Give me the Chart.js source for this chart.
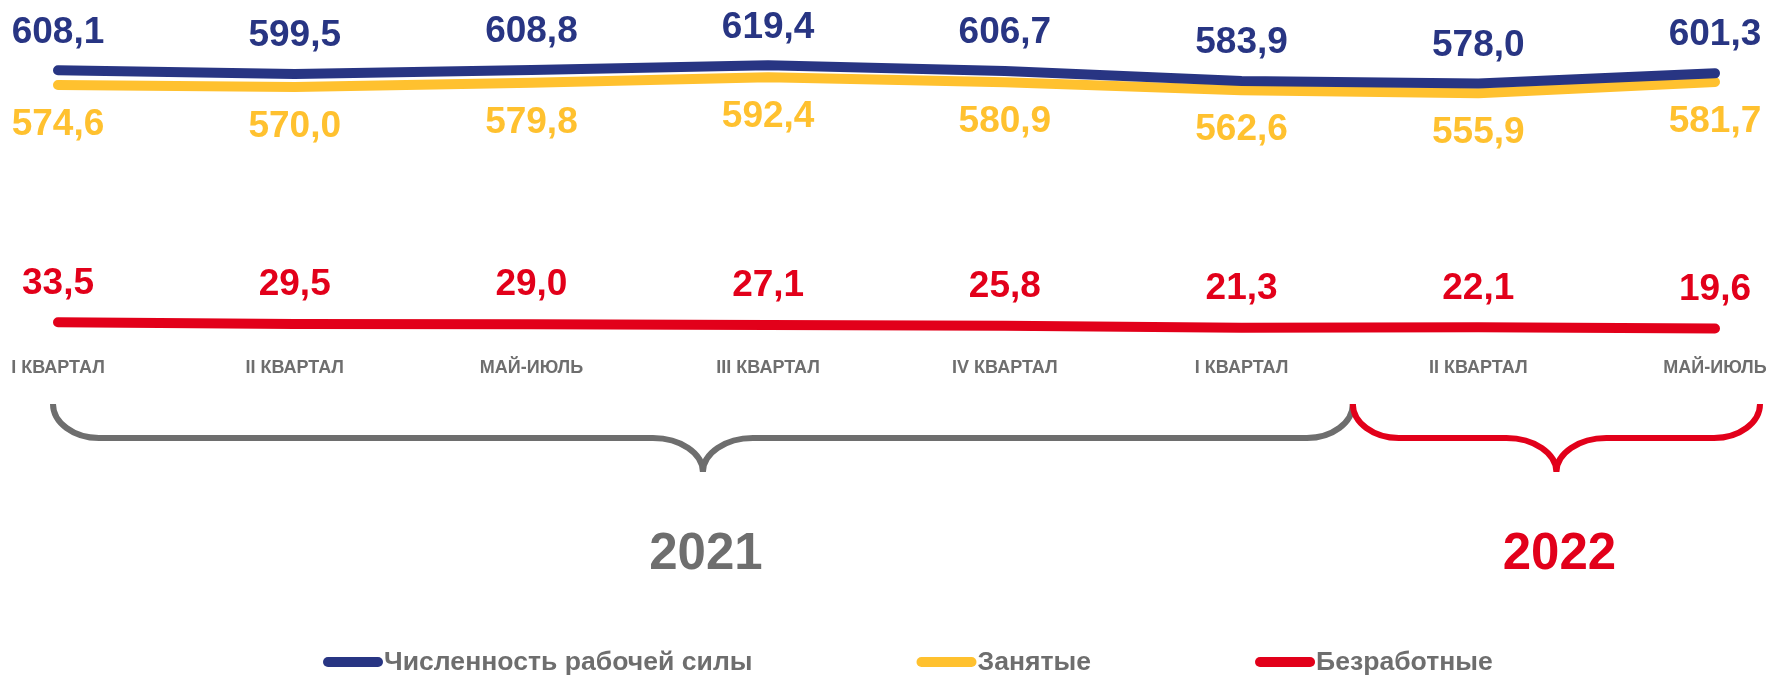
<!DOCTYPE html>
<html lang="ru">
<head>
<meta charset="utf-8">
<title>Рабочая сила</title>
<script src="https://cdn.jsdelivr.net/npm/chart.js@4.4.1/dist/chart.umd.min.js"></script>
<style>
    html, body { margin: 0; padding: 0; background: #fff; }
    #wrap { width: 1766px; height: 676px; }
</style>
</head>
<body>
<div id="wrap"><canvas id="laborChart" width="1766" height="676"></canvas></div>
<script>
const periods = ["I КВАРТАЛ", "II КВАРТАЛ", "МАЙ-ИЮЛЬ", "III КВАРТАЛ", "IV КВАРТАЛ", "I КВАРТАЛ", "II КВАРТАЛ", "МАЙ-ИЮЛЬ"];
const laborForce = [608.1, 599.5, 608.8, 619.4, 606.7, 583.9, 578.0, 601.3];
const employed = [574.6, 570.0, 579.8, 592.4, 580.9, 562.6, 555.9, 581.7];
const unemployed = [33.5, 29.5, 29.0, 27.1, 25.8, 21.3, 22.1, 19.6];
const seriesNames = ["Численность рабочей силы", "Занятые", "Безработные"];
const years = ["2021", "2022"];
const yearRanges = [[0, 5], [6, 7]];

const BLUE = "#283583";
const YELLOW = "#FFC12F";
const RED = "#E2001A";
const GRAY = "#6E6E6E";
const FONT = "'Liberation Sans', Arial, sans-serif";

// vertical shift of each series' value labels from its points
const labelShift = [-38, 40, -39];

const valueLabels = {
    id: "valueLabels",
    afterDatasetsDraw(chart) {
        const ctx = chart.ctx;
        ctx.save();
        ctx.font = "bold 37px " + FONT;
        ctx.textAlign = "center";
        ctx.textBaseline = "middle";
        chart.data.datasets.forEach((ds, i) => {
            ctx.fillStyle = ds.borderColor;
            chart.getDatasetMeta(i).data.forEach((pt, j) => {
                ctx.fillText(ds.data[j].toFixed(1).replace(".", ","), pt.x, pt.y + labelShift[i]);
            });
        });
        ctx.restore();
    }
};

function drawBrace(ctx, x1, x2, top, mid, tip) {
    const k = 0.55;
    const we = 46, wm = 50;
    const xm = (x1 + x2) / 2;
    ctx.beginPath();
    ctx.moveTo(x1, top);
    ctx.bezierCurveTo(x1, top + k * (mid - top), x1 + we * (1 - k), mid, x1 + we, mid);
    ctx.lineTo(xm - wm, mid);
    ctx.bezierCurveTo(xm - wm * (1 - k), mid, xm, tip - k * (tip - mid), xm, tip);
    ctx.moveTo(xm, tip);
    ctx.bezierCurveTo(xm, tip - k * (tip - mid), xm + wm * (1 - k), mid, xm + wm, mid);
    ctx.lineTo(x2 - we, mid);
    ctx.bezierCurveTo(x2 - we * (1 - k), mid, x2, top + k * (mid - top), x2, top);
    ctx.stroke();
    return xm;
}

const yearBraces = {
    id: "yearBraces",
    afterDraw(chart) {
        const ctx = chart.ctx;
        const xs = chart.scales.x;
        const step = xs.getPixelForValue(1) - xs.getPixelForValue(0);
        const colors = [GRAY, RED];
        let start = xs.getPixelForValue(yearRanges[0][0]) - 5;
        ctx.save();
        ctx.lineWidth = 6;
        ctx.lineCap = "butt";
        yearRanges.forEach((r, i) => {
            const last = xs.getPixelForValue(r[1]);
            const end = i < yearRanges.length - 1 ? last + step * 0.47 : last + 45;
            ctx.strokeStyle = colors[i];
            const mid = drawBrace(ctx, start, end, 404, 438, 472);
            ctx.fillStyle = colors[i];
            ctx.font = "bold 51px " + FONT;
            ctx.textAlign = "center";
            ctx.textBaseline = "middle";
            ctx.fillText(years[i], mid + 3, 555);
            start = end;
        });
        ctx.restore();
    }
};

const bottomLegend = {
    id: "bottomLegend",
    afterDraw(chart) {
        const ctx = chart.ctx;
        const y = 662;
        let x = 323;
        ctx.save();
        ctx.font = "bold 26.6px " + FONT;
        ctx.textBaseline = "middle";
        ctx.textAlign = "left";
        chart.data.datasets.forEach((ds) => {
            ctx.strokeStyle = ds.borderColor;
            ctx.lineWidth = 10;
            ctx.lineCap = "round";
            ctx.beginPath();
            ctx.moveTo(x + 5, y);
            ctx.lineTo(x + 55, y);
            ctx.stroke();
            x += 61;
            ctx.fillStyle = GRAY;
            ctx.fillText(ds.label, x, y + 1);
            x += ctx.measureText(ds.label).width + 164;
        });
        ctx.restore();
    }
};

function lineSet(label, data, color) {
    return {
        label: label,
        data: data,
        borderColor: color,
        backgroundColor: color,
        borderWidth: 10,
        borderCapStyle: "round",
        borderJoinStyle: "round",
        pointRadius: 0,
        pointHoverRadius: 0,
        tension: 0,
        fill: false,
        clip: false
    };
}

new Chart(document.getElementById("laborChart").getContext("2d"), {
    type: "line",
    data: {
        labels: periods,
        datasets: [
            lineSet(seriesNames[0], laborForce, BLUE),
            lineSet(seriesNames[1], employed, YELLOW),
            lineSet(seriesNames[2], unemployed, RED)
        ]
    },
    options: {
        responsive: false,
        animation: false,
        layout: { padding: { left: 58, right: 51, top: 30, bottom: 0 } },
        plugins: {
            legend: { display: false },
            tooltip: { enabled: false }
        },
        scales: {
            x: {
                grid: { display: false, drawTicks: false },
                border: { display: false },
                ticks: {
                    color: GRAY,
                    font: { family: FONT, size: 18, weight: "bold" },
                    padding: 20,
                    maxRotation: 0,
                    autoSkip: false
                },
                afterFit: (scale) => {
                    scale.height = 339;
                    scale.paddingLeft = 0;
                    scale.paddingRight = 0;
                }
            },
            y: { display: false, min: 0, max: 700 }
        }
    },
    plugins: [valueLabels, yearBraces, bottomLegend]
});
</script>
</body>
</html>
